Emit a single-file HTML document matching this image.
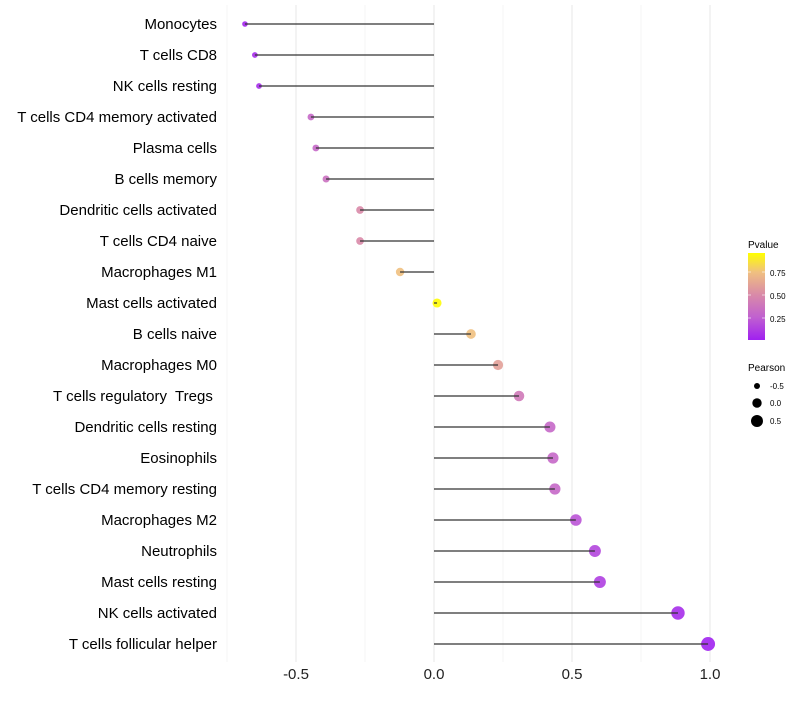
<!DOCTYPE html>
<html><head><meta charset="utf-8"><style>
body{margin:0;background:#fff;}
svg text{font-family:"Liberation Sans",sans-serif;white-space:pre;}
</style></head><body>
<svg id="chart" width="800" height="700" xmlns="http://www.w3.org/2000/svg">
<defs><linearGradient id="pg" x1="0" y1="1" x2="0" y2="0">
<stop offset="0" stop-color="#a020f0"/><stop offset="0.26" stop-color="#c060d0"/><stop offset="0.52" stop-color="#d98aa8"/><stop offset="0.78" stop-color="#f0c080"/><stop offset="1" stop-color="#ffff00"/>
</linearGradient></defs>
<g id="grid"></g><g id="marks"></g><g id="labels"></g>
<g>
<text x="748" y="248" font-size="10" fill="#000">Pvalue</text>
<rect x="748" y="253" width="17" height="87" fill="url(#pg)"/>
<line x1="748" y1="272" x2="751" y2="272" stroke="#fff" opacity="0.6"/><line x1="762" y1="272" x2="765" y2="272" stroke="#fff" opacity="0.6"/>
<line x1="748" y1="295" x2="751" y2="295" stroke="#fff" opacity="0.6"/><line x1="762" y1="295" x2="765" y2="295" stroke="#fff" opacity="0.6"/>
<line x1="748" y1="318" x2="751" y2="318" stroke="#fff" opacity="0.6"/><line x1="762" y1="318" x2="765" y2="318" stroke="#fff" opacity="0.6"/>
<text x="770" y="276" font-size="8">0.75</text><text x="770" y="299" font-size="8">0.50</text><text x="770" y="322" font-size="8">0.25</text>
</g>
<g>
<text x="748" y="371" font-size="10">Pearson</text>
<circle cx="757" cy="386" r="3"/><text x="770" y="389" font-size="8">-0.5</text>
<circle cx="757" cy="403" r="4.7"/><text x="770" y="406" font-size="8">0.0</text>
<circle cx="757" cy="421" r="6"/><text x="770" y="424" font-size="8">0.5</text>
</g>
</svg>
<script>
const categories=["Monocytes","T cells CD8","NK cells resting","T cells CD4 memory activated","Plasma cells","B cells memory","Dendritic cells activated","T cells CD4 naive","Macrophages M1","Mast cells activated","B cells naive","Macrophages M0","T cells regulatory  Tregs ","Dendritic cells resting","Eosinophils","T cells CD4 memory resting","Macrophages M2","Neutrophils","Mast cells resting","NK cells activated","T cells follicular helper"];
const pearson=[-0.685,-0.649,-0.634,-0.446,-0.428,-0.391,-0.268,-0.268,-0.123,0.011,0.134,0.232,0.308,0.420,0.431,0.438,0.514,0.583,0.601,0.884,0.993];
const pvalue=[0.02,0.05,0.05,0.3,0.3,0.35,0.5,0.5,0.75,0.95,0.75,0.6,0.4,0.3,0.3,0.3,0.2,0.15,0.12,0.05,0.01];
const xTicks=[-0.5,0,0.5,1.0];
const xTickLabels=["-0.5","0.0","0.5","1.0"];
const minorTicks=[-0.75,-0.25,0.25,0.75];
const NS="http://www.w3.org/2000/svg";
const x=v=>434+v*276;
const y=i=>24+i*31;
const stops=[[0,[160,32,240]],[0.26,[192,96,208]],[0.52,[217,138,168]],[0.78,[240,192,128]],[1,[255,255,0]]];
function col(p){p=Math.max(0,Math.min(1,p/0.96));for(let k=1;k<stops.length;k++){if(p<=stops[k][0]){const a=stops[k-1],b=stops[k];const t=(p-a[0])/(b[0]-a[0]);return "rgb("+a[1].map((c,j)=>Math.round(c+(b[1][j]-c)*t)).join(",")+")";}}return "rgb(255,255,0)";}
const rad=v=>4.5+2.5*v;
function mk(t,a,p){const e=document.createElementNS(NS,t);for(const k in a)e.setAttribute(k,a[k]);p.appendChild(e);return e;}
const grid=document.getElementById('grid'),marks=document.getElementById('marks'),labels=document.getElementById('labels');
minorTicks.forEach(v=>{const l=mk('line',{x1:x(v),x2:x(v),y1:5,y2:662,stroke:'#f2f2f2','stroke-width':0.8},grid);

});
xTicks.forEach((v,i)=>{const l=mk('line',{x1:x(v),x2:x(v),y1:5,y2:662,stroke:'#ebebeb','stroke-width':1.2},grid);


const t=mk('text',{x:x(v),y:679,'text-anchor':'middle','font-size':15,fill:'#222'},labels);t.textContent=xTickLabels[i];

});
categories.forEach((c,i)=>{
const t=mk('text',{x:217,y:y(i)+5,'text-anchor':'end','font-size':15,fill:'#000'},labels);t.textContent=c;


const pt=mk('circle',{cx:x(pearson[i]),cy:y(i),r:rad(pearson[i]),fill:col(pvalue[i]),'fill-opacity':0.9},marks);


const sg=mk('line',{x1:x(0),x2:x(pearson[i]),y1:y(i),y2:y(i),stroke:'#333','stroke-width':1.2},marks);


});
</script>
</body></html>
